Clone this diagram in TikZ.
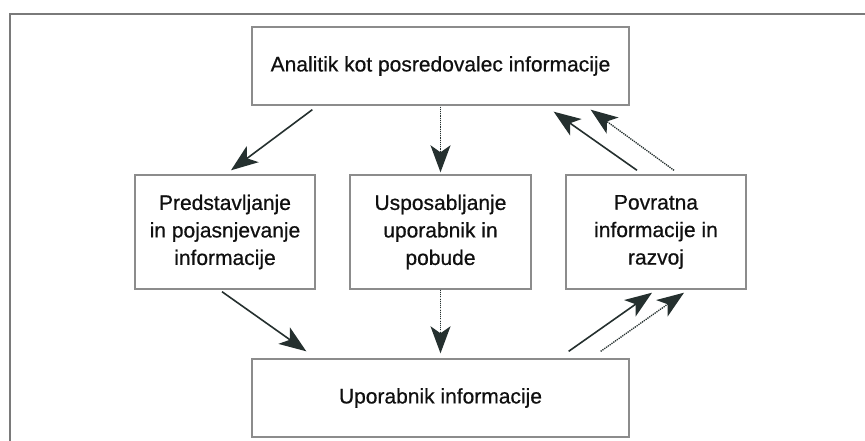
\documentclass[tikz,border=0pt]{standalone}
\usepackage{fontspec}
\setmainfont{Liberation Sans}[FakeBold=0.6]
\usetikzlibrary{arrows.meta,calc}
\definecolor{arrowc}{HTML}{25302F}
\definecolor{boxc}{HTML}{8C8C8C}
\definecolor{framec}{HTML}{7A7A7A}
\definecolor{textc}{HTML}{101010}
\begin{document}
\begin{tikzpicture}[x=1pt,y=-1pt,
  box/.style={draw=boxc,line width=1.4pt,fill=white,text=textc,align=center,
    inner sep=0pt,font=\fontsize{21}{27.5}\selectfont},
  tip/.style={-{Stealth[length=27pt,width=20pt,inset=7pt]}},
  solidarrow/.style={tip,draw=arrowc,fill=arrowc,line width=1.6pt},
  dotarrow/.style={tip,draw=arrowc,fill=arrowc,line width=1.4pt,dash pattern=on 1.1pt off 1.1pt}]
\useasboundingbox (0,0) rectangle (865,441);
\fill[white] (0,0) rectangle (865,441);
\draw[framec,line width=1.5pt] (10,445) -- (10,14) -- (870,14);

\node[box,minimum width=377pt,minimum height=78pt] (top) at (440.5,66) {Analitik kot posredovalec informacije};
\node[box,minimum width=180pt,minimum height=114pt] (left) at (225,232) {Predstavljanje\\in pojasnjevanje\\informacije};
\node[box,minimum width=181pt,minimum height=114pt] (mid) at (440.5,232) {Usposabljanje\\uporabnik in\\pobude};
\node[box,minimum width=180pt,minimum height=114pt] (right) at (656,232) {Povratna\\informacije in\\razvoj};
\node[box,minimum width=377pt,minimum height=78pt] (bot) at (440.5,398) {Uporabnik informacije};

\draw[solidarrow] ($(top.south west)+(61,4)$) -- ($(left.north)+(6,-4)$);
\draw[dotarrow] ($(top.south)+(0,1)$) -- ($(mid.north)+(0,-2)$);
\draw[solidarrow] ($(right.north)+(-19,-4)$) -- ($(top.south east)+(-76,6)$);
\draw[dotarrow] ($(right.north)+(18,-4)$) -- ($(top.south east)+(-39,4)$);
\draw[solidarrow] ($(left.south)+(-3,2)$) -- ($(bot.north west)+(55,-7)$);
\draw[dotarrow] ($(mid.south)+(0,0)$) -- ($(bot.north)+(0,-5)$);
\draw[solidarrow] ($(bot.north east)+(-61,-7)$) -- ($(right.south)+(-4,3)$);
\draw[dotarrow] ($(bot.north east)+(-29,-7)$) -- ($(right.south)+(28,3)$);
\end{tikzpicture}
\end{document}
